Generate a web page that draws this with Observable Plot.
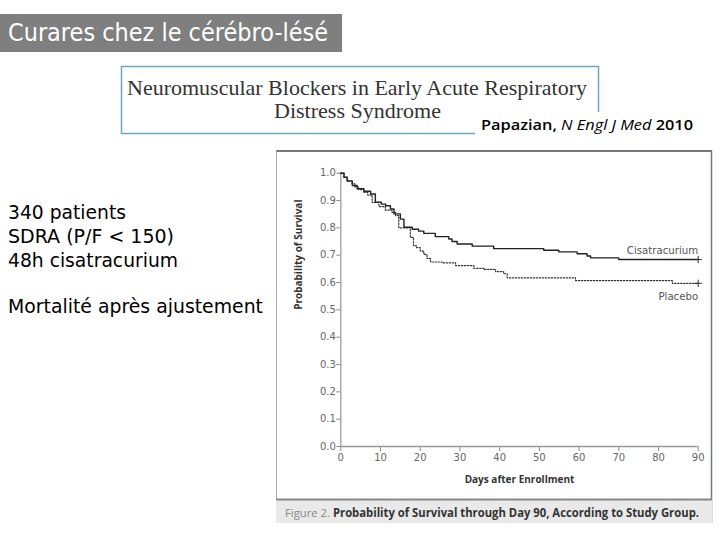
<!DOCTYPE html>
<html><head><meta charset="utf-8">
<script src="https://cdn.jsdelivr.net/npm/d3@7"></script>
<script src="https://cdn.jsdelivr.net/npm/@observablehq/plot@0.6"></script>
<style>
html,body{margin:0;padding:0;background:#fff;}
#slide{position:relative;width:720px;height:540px;overflow:hidden;background:#fff;}
#deco{position:absolute;left:0;top:0;}
#chart{position:absolute;left:276px;top:151px;}
</style></head><body>
<div id="slide">
<svg id="deco" width="720" height="540" xmlns="http://www.w3.org/2000/svg">
  <rect x="0" y="14" width="342" height="38" fill="#7f7f7f"/>
  <text x="8" y="41" fill="#fff" font-family="DejaVu Sans" font-size="24" textLength="320" lengthAdjust="spacingAndGlyphs">Curares chez le cérébro-lésé</text>
  <rect x="121.5" y="66.5" width="477" height="67" fill="none" stroke="#6aaabb" stroke-width="1.5"/>
  <text x="357" y="95" text-anchor="middle" fill="#333" font-family="Liberation Serif" font-size="21" textLength="460" lengthAdjust="spacingAndGlyphs">Neuromuscular Blockers in Early Acute Respiratory</text>
  <text x="357.5" y="118" text-anchor="middle" fill="#333" font-family="Liberation Serif" font-size="21" textLength="167" lengthAdjust="spacingAndGlyphs">Distress Syndrome</text>
  <rect x="475" y="112" width="245" height="30" fill="#fff"/>
  <text x="481" y="130" fill="#000" font-family="Open Sans" font-size="14" font-weight="600" textLength="212" lengthAdjust="spacingAndGlyphs">Papazian, <tspan font-style="italic" font-weight="normal">N Engl J Med</tspan> 2010</text>
  <g fill="#000" font-family="DejaVu Sans" font-size="19.5">
    <text x="8" y="219" textLength="118" lengthAdjust="spacingAndGlyphs">340 patients</text>
    <text x="8" y="243" textLength="166" lengthAdjust="spacingAndGlyphs">SDRA (P/F &lt; 150)</text>
    <text x="8" y="267" textLength="170" lengthAdjust="spacingAndGlyphs">48h cisatracurium</text>
    <text x="8" y="313" textLength="255" lengthAdjust="spacingAndGlyphs">Mortalité après ajustement</text>
  </g>
  <line x1="276" y1="151" x2="712" y2="151" stroke="#777" stroke-width="2"/>
  <line x1="711.5" y1="151" x2="711.5" y2="523" stroke="#777" stroke-width="1.5"/>
  <line x1="276.5" y1="151" x2="276.5" y2="523" stroke="#aaa" stroke-width="1"/>
  <rect x="276" y="499" width="436" height="24" fill="#e9e9e9"/>
  <line x1="276" y1="499.5" x2="712" y2="499.5" stroke="#888" stroke-width="2"/>
  <text x="285" y="517" font-family="Open Sans" font-size="11.5" fill="#333" textLength="414" lengthAdjust="spacingAndGlyphs"><tspan fill="#888">Figure 2.</tspan> <tspan font-weight="bold">Probability of Survival through Day 90, According to Study Group.</tspan></text>
</svg>
<div id="chart"></div>
</div>
<script>
// Kaplan-Meier step points
const cisDays = [0,0.8,1.6,2.9,4.1,5.8,7.5,8.7,10.2,11.3,12.5,13.4,15,15.9,18,19.6,20.9,23.8,27.2,28,29.3,33.1,38.5,51.1,54.9,59.5,62,62.9,70,90];
const cisSurv = [1,0.985,0.971,0.955,0.943,0.934,0.924,0.894,0.887,0.881,0.869,0.851,0.832,0.802,0.795,0.788,0.78,0.768,0.759,0.75,0.741,0.733,0.724,0.718,0.712,0.705,0.697,0.69,0.684,0.684];
const plaDays = [0,0.8,1.6,2.8,3.5,4.5,5.8,6.8,7.9,9.6,11.2,12.9,13.8,14.6,17.5,18.3,19,20,20.9,21.7,22.6,25.5,28.9,33.5,36,39,41,41.9,59.1,83.5,90];
const plaSurv = [1,0.985,0.972,0.962,0.95,0.94,0.93,0.92,0.893,0.878,0.865,0.857,0.845,0.80,0.765,0.735,0.728,0.715,0.703,0.688,0.675,0.672,0.662,0.652,0.648,0.64,0.632,0.617,0.607,0.597,0.597];
const groups = ["Cisatracurium", "Placebo"];
const xTicks = [0,10,20,30,40,50,60,70,80,90];
const yTicks = [0,0.1,0.2,0.3,0.4,0.5,0.6,0.7,0.8,0.9,1.0];
const xTitle = "Days after Enrollment";
const yTitle = "Probability of Survival";

const cis = cisDays.map((d, i) => ({group: groups[0], day: d, surv: cisSurv[i]}));
const pla = plaDays.map((d, i) => ({group: groups[1], day: d, surv: plaSurv[i]}));
const ends = [cis[cis.length - 1], pla[pla.length - 1]];

const chart = Plot.plot({
  width: 436,
  height: 348,
  marginLeft: 64.3,
  marginRight: 14.3,
  marginTop: 21.7,
  marginBottom: 53,
  style: {background: "transparent", fontFamily: "DejaVu Sans", fontSize: "10px", color: "#555"},
  x: {domain: [0, 90]},
  y: {domain: [0, 1]},
  marks: [
    Plot.axisX({ticks: xTicks, tickSize: 5, tickPadding: 2, label: null, stroke: "#888", fill: "#666", fontSize: 10}),
    Plot.axisY({ticks: yTicks, tickSize: 4, tickPadding: 1, tickFormat: d3.format(".1f"), label: null, stroke: "#888", fill: "#666", fontSize: 10}),
    Plot.ruleY([0], {stroke: "#999", strokeWidth: 1.5}),
    Plot.ruleX([0], {stroke: "#aaa", strokeWidth: 1.5}),
    Plot.text([xTitle], {text: d => d, frameAnchor: "bottom", dy: 36, fontWeight: "bold", fontFamily: "Open Sans", fontSize: 10, fill: "#333"}),
    Plot.text([yTitle], {text: d => d, frameAnchor: "left", rotate: -90, dx: -42.5, fontWeight: "bold", fontFamily: "Open Sans", fontSize: 10, fill: "#333"}),
    Plot.line(pla, {x: "day", y: "surv", curve: "step-after", stroke: "#333", strokeWidth: 1.2, strokeDasharray: "1.4,1.6"}),
    Plot.line(cis, {x: "day", y: "surv", curve: "step-after", stroke: "#222", strokeWidth: 1.4}),
    Plot.dot(ends, {x: "day", y: "surv", symbol: "plus", r: 2.5, stroke: "#333", strokeWidth: 1}),
    Plot.text(ends.filter(d => d.group === groups[0]), {x: "day", y: "surv", text: "group", textAnchor: "end", dy: -9, fontSize: 10.2, fill: "#555"}),
    Plot.text(ends.filter(d => d.group === groups[1]), {x: "day", y: "surv", text: "group", textAnchor: "end", dy: 13, fontSize: 10.2, fill: "#555"})
  ]
});
document.getElementById("chart").appendChild(chart);
</script>
</body></html>
